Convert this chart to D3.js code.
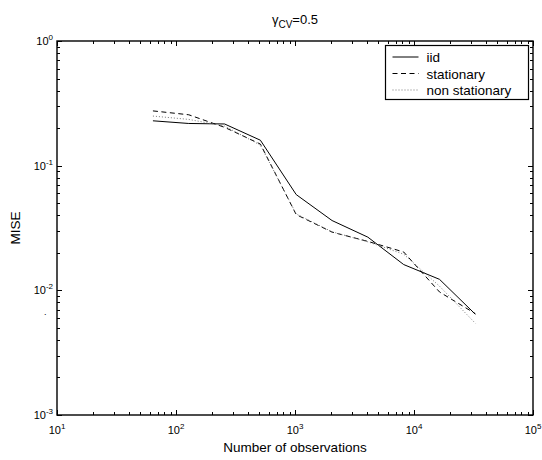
<!DOCTYPE html>
<html>
<head>
<meta charset="utf-8">
<script src="https://cdn.jsdelivr.net/npm/d3@7"></script>
<style>
  body { margin: 0; background: #fff; }
  text { font-family: "Liberation Sans", Arial, sans-serif; fill: #000; }
</style>
</head>
<body>
<svg id="chart" width="542" height="460"></svg>
<script>
// data
const nObs = [64, 128, 256, 512, 1024, 2048, 4096, 8192, 16384, 32768];
const iid = [0.229, 0.218, 0.216, 0.160, 0.0586, 0.0363, 0.0267, 0.0161, 0.01225, 0.00643];
const stationary = [0.275, 0.256, 0.203, 0.149, 0.0405, 0.0293, 0.0247, 0.0203, 0.0097, 0.0065];
const nonStationary = [0.25, 0.235, 0.208, 0.146, 0.041, 0.0295, 0.0245, 0.0195, 0.0108, 0.00544];
const xTickExp = [1, 2, 3, 4, 5];
const yTickExp = [0, -1, -2, -3];
const seriesNames = ["iid", "stationary", "non stationary"];

const margin = {top: 41, right: 9, bottom: 45, left: 57};
const width = 542, height = 460;
const innerWidth = width - margin.left - margin.right;
const innerHeight = height - margin.top - margin.bottom;

const svg = d3.select("#chart");
const g = svg.append("g").attr("transform", `translate(${margin.left},${margin.top})`);

const x = d3.scaleLog().domain([10, 1e5]).range([0, innerWidth]);
const y = d3.scaleLog().domain([1e-3, 1]).range([innerHeight, 0]);

// minor + major ticks, drawn inward on all four sides
function logTicks(lo, hi) {
  const t = [];
  for (let e = lo; e < hi; e++)
    for (let m = 1; m < 10; m++) t.push(m * Math.pow(10, e));
  t.push(Math.pow(10, hi));
  return t;
}
const xt = logTicks(1, 5), yt = logTicks(-3, 0);
const isMajor = v => Math.abs(Math.log10(v) - Math.round(Math.log10(v))) < 1e-9;

const ticks = g.append("g").attr("stroke", "#000").attr("stroke-width", 1);
xt.forEach(v => {
  const px = Math.round(x(v)) + 0.5, L = isMajor(v) ? 5 : 3;
  ticks.append("line").attr("x1", px).attr("x2", px).attr("y1", innerHeight).attr("y2", innerHeight - L);
  ticks.append("line").attr("x1", px).attr("x2", px).attr("y1", 0).attr("y2", L);
});
yt.forEach(v => {
  const py = Math.round(y(v)) + 0.5, L = isMajor(v) ? 5 : 3;
  ticks.append("line").attr("y1", py).attr("y2", py).attr("x1", 0).attr("x2", L);
  ticks.append("line").attr("y1", py).attr("y2", py).attr("x1", innerWidth).attr("x2", innerWidth - L);
});

g.append("rect").attr("width", innerWidth).attr("height", innerHeight)
  .attr("fill", "none").attr("stroke", "#000").attr("stroke-width", 1.4);

// tick labels: base "10" and exponent as separate texts
function powLabel(parent, cx, by, e, anchor) {
  const base = parent.append("text").attr("y", by).attr("font-size", 11).text("10");
  const sup = parent.append("text").attr("y", by - 5).attr("font-size", 8).text(e);
  const bw = base.node().getComputedTextLength(), sw = sup.node().getComputedTextLength();
  const left = anchor === "end" ? cx - bw - sw : cx - (bw + sw) / 2;
  base.attr("x", left);
  sup.attr("x", left + bw);
}
xTickExp.forEach(e => powLabel(g, x(Math.pow(10, e)), innerHeight + 19, e, "middle"));
yTickExp.forEach(e => powLabel(g, -4, y(Math.pow(10, e)) + 4, e, "end"));

// lines
const line = vals => d3.line().x((d, i) => x(nObs[i])).y(d => y(d))(vals);
const styles = [
  {vals: iid, dash: null, color: "#000"},
  {vals: stationary, dash: "5,3.5", color: "#000"},
  {vals: nonStationary, dash: "1,2", color: "#777"}
];
styles.forEach(s => {
  g.append("path").attr("d", line(s.vals)).attr("fill", "none")
    .attr("stroke", s.color).attr("stroke-width", 1)
    .attr("stroke-dasharray", s.dash);
});

// legend
const lg = svg.append("g").attr("transform", "translate(385.5,45.5)");
lg.append("rect").attr("width", 143).attr("height", 54)
  .attr("fill", "#fff").attr("stroke", "#000").attr("stroke-width", 1.2);
seriesNames.forEach((name, i) => {
  const yy = 11.5 + i * 16.5;
  lg.append("line").attr("x1", 7).attr("x2", 33).attr("y1", yy).attr("y2", yy)
    .attr("stroke", styles[i].color).attr("stroke-width", 1)
    .attr("stroke-dasharray", styles[i].dash);
  lg.append("text").attr("x", 41).attr("y", yy + 5).attr("font-size", 13.5).text(name);
});

// title: gamma with subscript CV, as separate texts
const tParts = [
  {s: "γ", size: 13, dy: 0},
  {s: "CV", size: 10, dy: 4},
  {s: "=0.5", size: 13, dy: 0}
];
const tNodes = tParts.map(p => svg.append("text").attr("y", 24 + p.dy)
  .attr("font-size", p.size).text(p.s));
const tW = tNodes.map(n => n.node().getComputedTextLength());
let tx = margin.left + innerWidth / 2 - d3.sum(tW) / 2;
tNodes.forEach((n, i) => { n.attr("x", tx); tx += tW[i]; });

// axis labels
svg.append("text").attr("x", margin.left + innerWidth / 2).attr("y", 452)
  .attr("text-anchor", "middle").attr("font-size", 13.5).text("Number of observations");
svg.append("text").attr("transform", `translate(20,${margin.top + innerHeight / 2}) rotate(-90)`)
  .attr("text-anchor", "middle").attr("font-size", 13.5).text("MISE");

// stray mark present in the original
svg.append("text").attr("x", 44).attr("y", 315).attr("font-size", 9).text(".");
</script>
</body>
</html>
